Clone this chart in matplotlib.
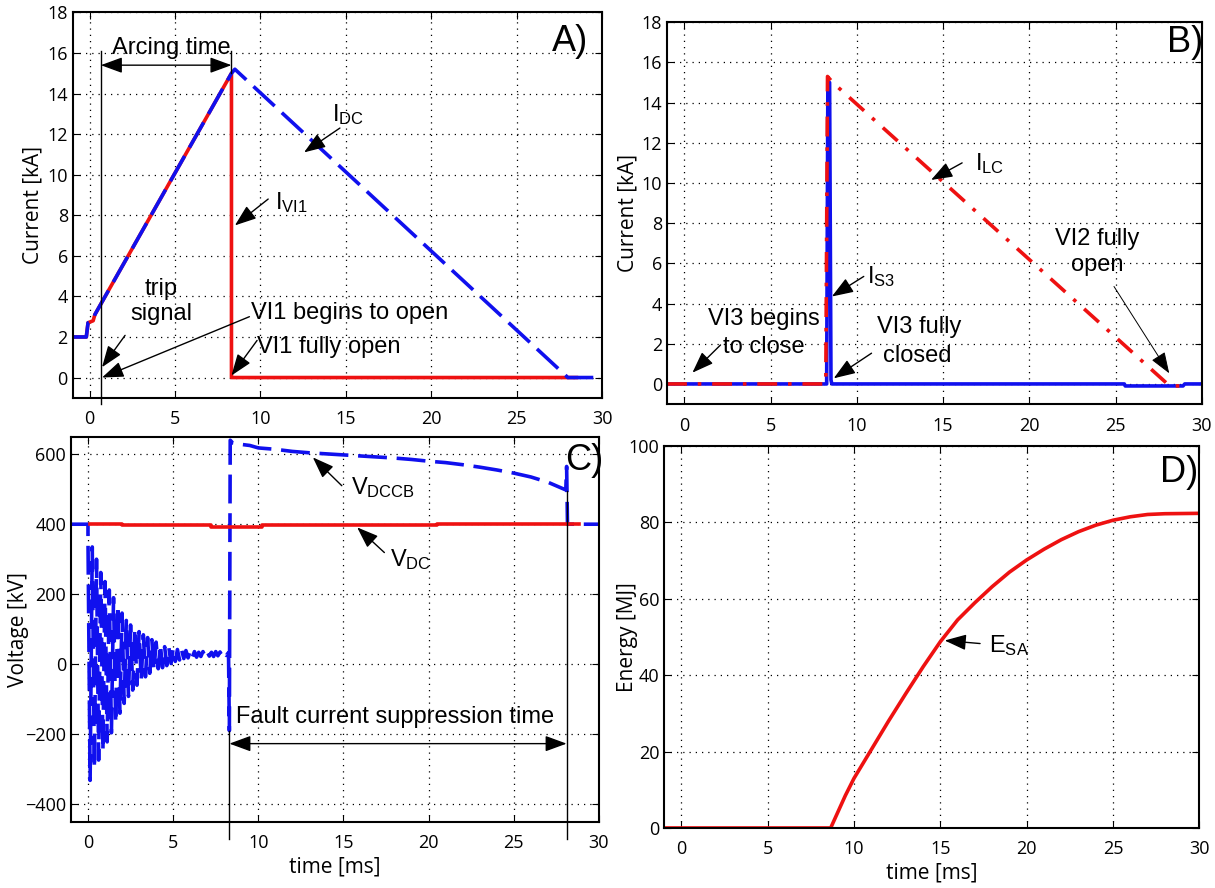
import matplotlib.pyplot as plt
import numpy as np

plt.rcParams['font.family'] = ['Open Sans', 'DejaVu Sans']
plt.rcParams['mathtext.fontset'] = 'custom'
plt.rcParams['mathtext.rm'] = 'Liberation Sans'
plt.rcParams['mathtext.it'] = 'Liberation Sans:italic'

# ---- A) currents through the main branch
t_idc = [-1, -0.2, -0.1, 0.2, 0.3, 0.5, 8.3, 8.5, 28.0, 30]
i_dc = [2.0, 2.0, 2.7, 2.8, 3.1, 3.4, 15.0, 15.2, 0.0, 0.0]
t_ivi1 = [-1, -0.2, -0.1, 0.2, 0.3, 0.5, 8.3, 8.3, 28.5]
i_vi1 = [2.0, 2.0, 2.7, 2.8, 3.1, 3.4, 15.0, 0.0, 0.0]

# ---- B) LC branch and S3 currents
t_ilc = [-1, 8.2, 8.3, 8.6, 28.0, 28.2, 28.9, 29.0]
i_lc = [0.0, 0.0, 15.3, 15.0, 0.0, -0.1, -0.1, 0.0]
t_is3 = [-1, 8.25, 8.32, 8.42, 8.5, 8.55, 25.5, 25.55, 28.9, 29.0, 30]
i_s3 = [0.0, 0.0, 15.0, 15.0, 0.2, 0.0, 0.0, -0.1, -0.1, 0.0, 0.0]

# ---- C) voltages
t_vdc = [0.1, 2.0, 2.0, 7.2, 7.2, 10.2, 10.2, 20.5, 20.5, 28.8]
v_dc = [400, 400, 397, 397, 391, 391, 397, 397, 401, 401]

t_vpre = [-1, 0]
v_pre = [400, 400]
# ringing after fault, sampled every 0.125 ms from t=0
v_osc = [355, -332, 335, -298, 300, -274, 262, -248, 236, -222,
         212, -196, 190, -168, 168, -140, 146, -112, 125, -92,
         112, -74, 102, -60, 93, -46, 84, -36, 76, -26,
         70, -18, 63, -13, 56, -10, 50, -4, 47, 2,
         45, 8, 42, 12, 40, 16, 39, 18, 38, 20,
         36, 20, 34, 22, 36, 22, 35, 23, 34, 22,
         36, 24, 35, 24, 34, 25, 33]
t_vpost = [8.3, 8.35, 8.5, 9, 9.5, 10, 11, 12, 13, 14, 15, 16, 17, 18, 19, 20,
           21, 22, 23, 24, 25, 26, 27, 28.05, 28.1, 28.15, 30]
v_post = [-190, 640, 632, 628, 625, 618, 614, 608, 604, 601, 598, 595, 592, 589,
          585, 580, 576, 570, 563, 555, 546, 535, 520, 498, 565, 400, 400]

# ---- D) surge arrester energy
t_esa = [-1, 8.65, 9, 9.5, 10, 11, 12, 13, 14, 15, 16, 17, 18, 19, 20,
         21, 22, 23, 24, 25, 26, 27, 28, 30]
e_sa = [0, 0, 3.5, 8.5, 13, 20.5, 28, 35.2, 42.2, 48.8, 54.5, 59, 63.2, 67, 70.2,
        73, 75.5, 77.6, 79.3, 80.6, 81.5, 82.1, 82.3, 82.4]

t_osc = np.arange(len(v_osc)) * 0.125
t_vdccb = np.concatenate([t_vpre, t_osc, t_vpost])
v_dccb = np.concatenate([v_pre, v_osc, v_post])

BLUE = '#1010ee'
RED = '#ee1111'
ANN = dict(family=['Liberation Sans', 'DejaVu Sans'], fontsize=17)
ARR = dict(arrowstyle='-|>,head_length=0.6,head_width=0.22', color='k', lw=1,
           shrinkA=0, shrinkB=0, mutation_scale=22)
DARR = dict(arrowstyle='<|-|>,head_length=0.6,head_width=0.22', color='k', lw=1,
            shrinkA=0, shrinkB=0, mutation_scale=22)
DASH = (0, (8, 2.7))
DASHDOT = (0, (5.5, 3, 1, 3))
LW = 2.6

fig = plt.figure(figsize=(12.15, 8.88), dpi=100)
axA = fig.add_axes([0.0598, 0.552, 0.4357, 0.434])
axB = fig.add_axes([0.549, 0.545, 0.4403, 0.430])
axC = fig.add_axes([0.0584, 0.0747, 0.4346, 0.4335])
axD = fig.add_axes([0.5465, 0.0676, 0.4407, 0.430])


def style(ax, ylim, yticks, ylabel, lx):
    ax.set_xlim(-1, 30)
    ax.set_ylim(*ylim)
    ax.set_xticks([0, 5, 10, 15, 20, 25, 30])
    ax.set_yticks(yticks)
    ax.grid(True, color='k', linestyle=(0, (1, 4)), linewidth=0.9)
    ax.tick_params(direction='in', length=5, top=True, right=True, labelsize=13)
    ax.tick_params(axis='x', pad=9)
    ax.tick_params(axis='y', pad=3.5)
    for s in ax.spines.values():
        s.set_linewidth(1.5)
    ax.set_ylabel(ylabel, fontsize=15)
    ax.yaxis.set_label_coords(lx, 0.5)


# A)
axA.plot(t_ivi1, i_vi1, color=RED, lw=LW)
axA.plot(t_idc, i_dc, color=BLUE, lw=LW, linestyle=DASH)
style(axA, (-1, 18), range(0, 19, 2), 'Current [kA]', -0.056)
axA.plot([0.65, 0.65], [-1.3, 16.1], color='k', lw=1, clip_on=False)
axA.plot([8.3, 8.3], [15.0, 16.1], color='k', lw=1)
axA.annotate('', xy=(0.65, 15.4), xytext=(8.3, 15.4), arrowprops=DARR)
axA.text(1.3, 15.95, 'Arcing time', **ANN)
axA.text(14.2, 12.65, r'I$_{\mathrm{DC}}$', **ANN)
axA.annotate('', xy=(12.55, 11.1), xytext=(14.65, 12.3), arrowprops=ARR)
axA.text(10.85, 8.28, r'I$_{\mathrm{VI1}}$', **ANN)
axA.annotate('', xy=(8.5, 7.5), xytext=(10.45, 8.8), arrowprops=ARR)
axA.text(4.2, 3.75, 'trip\nsignal', ha='center', va='center', **ANN)
axA.annotate('', xy=(0.72, 0.51), xytext=(2.07, 2.08), arrowprops=ARR)
axA.text(9.45, 2.9, 'VI1 begins to open', **ANN)
axA.annotate('', xy=(0.72, 0.0), xytext=(9.35, 3.0), arrowprops=ARR)
axA.text(9.8, 1.2, 'VI1 fully open', **ANN)
axA.annotate('', xy=(8.3, 0.1), xytext=(9.8, 1.83), arrowprops=ARR)
axA.text(29.2, 16.1, 'A)', ha='right', family=['Liberation Sans'], fontsize=26)

# B)
axB.plot(t_is3, i_s3, color=BLUE, lw=LW)
axB.plot(t_ilc, i_lc, color=RED, lw=LW, linestyle=DASHDOT)
style(axB, (-1, 18), range(0, 19, 2), 'Current [kA]', -0.054)
axB.text(16.86, 10.66, r'I$_{\mathrm{LC}}$', **ANN)
axB.annotate('', xy=(14.3, 10.15), xytext=(16.1, 11.0), arrowprops=ARR)
axB.text(10.6, 5.0, r'I$_{\mathrm{S3}}$', **ANN)
axB.annotate('', xy=(8.55, 4.35), xytext=(10.4, 5.35), arrowprops=ARR)
axB.text(4.6, 2.94, 'VI3 begins', ha='center', **ANN)
axB.text(4.6, 1.53, 'to close', ha='center', **ANN)
axB.annotate('', xy=(0.47, 0.56), xytext=(2.1, 1.94), arrowprops=ARR)
axB.text(13.6, 2.52, 'VI3 fully', ha='center', **ANN)
axB.text(13.5, 1.11, 'closed', ha='center', **ANN)
axB.annotate('', xy=(8.66, 0.28), xytext=(10.85, 1.53), arrowprops=ARR)
axB.text(23.95, 6.93, 'VI2 fully', ha='center', **ANN)
axB.text(23.95, 5.6, 'open', ha='center', **ANN)
axB.annotate('', xy=(28.1, 0.53), xytext=(24.9, 4.85),
             arrowprops=dict(ARR, lw=0.7))
axB.text(28.0, 16.5, 'B)', ha='left', family=['Liberation Sans'], fontsize=26, clip_on=False)

# C)
axC.plot(t_vdccb, v_dccb, color=BLUE, lw=LW, linestyle=DASH)
axC.plot(t_vdc, v_dc, color=RED, lw=LW)
style(axC, (-450, 650), range(-400, 601, 200), 'Voltage [kV]', -0.0795)
axC.set_xlabel('time [ms]', fontsize=15, labelpad=3)
axC.plot([8.3, 8.3], [-190, -500], color='k', lw=1, clip_on=False)
axC.plot([28.1, 28.1], [495, -500], color='k', lw=1, clip_on=False)
axC.annotate('', xy=(8.3, -227), xytext=(28.1, -227), arrowprops=DARR)
axC.text(8.7, -152, 'Fault current suppression time', va='center', **ANN)
axC.text(15.47, 486, r'V$_{\mathrm{DCCB}}$', **ANN)
axC.annotate('', xy=(13.2, 591), xytext=(14.9, 510), arrowprops=ARR)
axC.text(17.75, 281, r'V$_{\mathrm{DC}}$', **ANN)
axC.annotate('', xy=(15.8, 391), xytext=(17.4, 319), arrowprops=ARR)
axC.text(28.0, 556, 'C)', ha='left', family=['Liberation Sans'], fontsize=26, clip_on=False)

# D)
axD.plot(t_esa, e_sa, color=RED, lw=LW)
style(axD, (0, 100), range(0, 101, 20), 'Energy [MJ]', -0.0486)
axD.set_xlabel('time [ms]', fontsize=15, labelpad=3)
axD.text(17.8, 46.1, r'E$_{\mathrm{SA}}$', **ANN)
axD.annotate('', xy=(15.25, 49.1), xytext=(17.3, 48.3), arrowprops=ARR)
axD.text(27.7, 90.6, 'D)', ha='left', family=['Liberation Sans'], fontsize=26)

fig.savefig('out.png', dpi=100)
